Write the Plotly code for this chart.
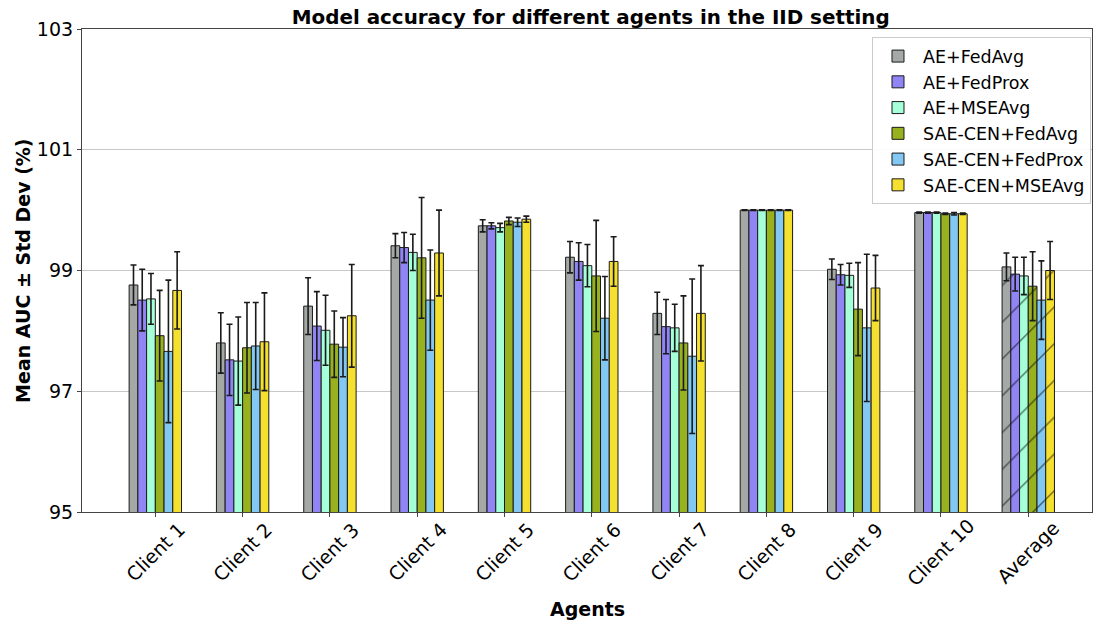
import plotly.graph_objects as go

agents = ["Client 1", "Client 2", "Client 3", "Client 4", "Client 5", "Client 6",
          "Client 7", "Client 8", "Client 9", "Client 10", "Average"]

series_names = ["AE+FedAvg", "AE+FedProx", "AE+MSEAvg",
                "SAE-CEN+FedAvg", "SAE-CEN+FedProx", "SAE-CEN+MSEAvg"]

ae_fedavg = [98.76, 97.80, 98.41, 99.41, 99.74, 99.22, 98.29, 100.0, 99.02, 99.96, 99.06]
ae_fedavg_std = [0.33, 0.50, 0.47, 0.20, 0.10, 0.26, 0.35, 0.005, 0.17, 0.01, 0.23]

ae_fedprox = [98.51, 97.52, 98.08, 99.38, 99.74, 99.15, 98.07, 100.0, 98.93, 99.96, 98.94]
ae_fedprox_std = [0.51, 0.59, 0.57, 0.25, 0.05, 0.31, 0.45, 0.005, 0.17, 0.01, 0.28]

ae_mseavg = [98.53, 97.50, 98.01, 99.30, 99.71, 99.08, 98.05, 100.0, 98.92, 99.96, 98.91]
ae_mseavg_std = [0.42, 0.73, 0.58, 0.30, 0.07, 0.35, 0.39, 0.005, 0.20, 0.01, 0.31]

sae_fedavg = [97.92, 97.72, 97.78, 99.21, 99.82, 98.91, 97.80, 100.0, 98.36, 99.94, 98.74]
sae_fedavg_std = [0.75, 0.75, 0.55, 1.00, 0.06, 0.92, 0.78, 0.005, 0.77, 0.01, 0.57]

sae_fedprox = [97.66, 97.75, 97.73, 98.51, 99.80, 98.21, 97.58, 100.0, 98.05, 99.94, 98.51]
sae_fedprox_std = [1.18, 0.72, 0.49, 0.83, 0.07, 0.69, 1.28, 0.005, 1.22, 0.02, 0.65]

sae_mseavg = [98.67, 97.82, 98.25, 99.29, 99.85, 99.15, 98.29, 100.0, 98.71, 99.94, 99.00]
sae_mseavg_std = [0.64, 0.81, 0.85, 0.71, 0.05, 0.41, 0.79, 0.005, 0.54, 0.01, 0.48]

colors = ["#A4A9A6", "#9185F5", "#A5FFD8", "#98B11E", "#82C8F2", "#F5E030"]

means = [ae_fedavg, ae_fedprox, ae_mseavg, sae_fedavg, sae_fedprox, sae_mseavg]
stds = [ae_fedavg_std, ae_fedprox_std, ae_mseavg_std,
        sae_fedavg_std, sae_fedprox_std, sae_mseavg_std]

FONT = "DejaVu Sans"
hatch = ["" for _ in agents[:-1]] + ["/"]

fig = go.Figure()
for name, m, s, c in zip(series_names, means, stds, colors):
    fig.add_trace(go.Bar(
        name=name, x=agents, y=m,
        marker=dict(color=c, line=dict(color="#1a1a1a", width=1),
                    pattern=dict(shape=hatch, fgcolor="#000000", fillmode="overlay",
                                 size=26, solidity=0.06)),
        error_y=dict(type="data", array=s, visible=True, color="#1a1a1a",
                     thickness=1.6, width=3),
    ))

annotations = []
for a in agents:
    annotations.append(dict(x=a, y=-0.083, xref="x", yref="paper", text=a,
                            showarrow=False, textangle=-45, xanchor="center",
                            yanchor="middle", font=dict(family=FONT, size=19, color="black")))
annotations.append(dict(x=0.5, y=-0.2, xref="paper", yref="paper", text="<b>Agents</b>",
                        showarrow=False, xanchor="center", yanchor="middle",
                        font=dict(family=FONT, size=19, color="black")))
annotations.append(dict(x=-0.059, y=0.5, xref="paper", yref="paper",
                        text="<b>Mean AUC ± Std Dev (%)</b>", textangle=-90,
                        showarrow=False, xanchor="center", yanchor="middle",
                        font=dict(family=FONT, size=19, color="black")))

fig.update_layout(
    width=1100, height=622,
    margin=dict(l=82, r=8, t=29, b=110, autoexpand=False),
    paper_bgcolor="white", plot_bgcolor="white",
    barmode="group", bargap=0.4, bargroupgap=0,
    font=dict(family=FONT, color="black"),
    title=dict(text="<b>Model accuracy for different agents in the IID setting</b>",
               x=0.537, xanchor="center", y=0.973, yanchor="middle",
               font=dict(family=FONT, size=19.9, color="black")),
    legend=dict(x=0.999, xanchor="right", y=0.983, yanchor="top",
                bgcolor="rgba(255,255,255,0.9)", bordercolor="#cccccc", borderwidth=1,
                font=dict(family=FONT, size=17.5, color="black"),
                tracegroupgap=0, itemwidth=40),
    annotations=annotations,
)

fig.update_xaxes(
    type="category", range=[-0.84, 10.73], automargin=False,
    showticklabels=False, ticks="outside", ticklen=4, tickcolor="#444",
    showline=True, linecolor="#444", linewidth=1.2, mirror=True,
    showgrid=False,
)
fig.update_yaxes(
    range=[95, 103], tickvals=[95, 97, 99, 101, 103], automargin=False,
    ticks="outside", ticklen=4, tickcolor="#444",
    tickfont=dict(family=FONT, size=19, color="black"),
    showline=True, linecolor="#444", linewidth=1.2, mirror=True,
    showgrid=True, gridcolor="#c8c8c8", gridwidth=1, zeroline=False,
)

fig.write_html("out.html", config={"displayModeBar": False},
               post_script="document.body.style.margin='0';document.body.style.overflow='hidden';")
